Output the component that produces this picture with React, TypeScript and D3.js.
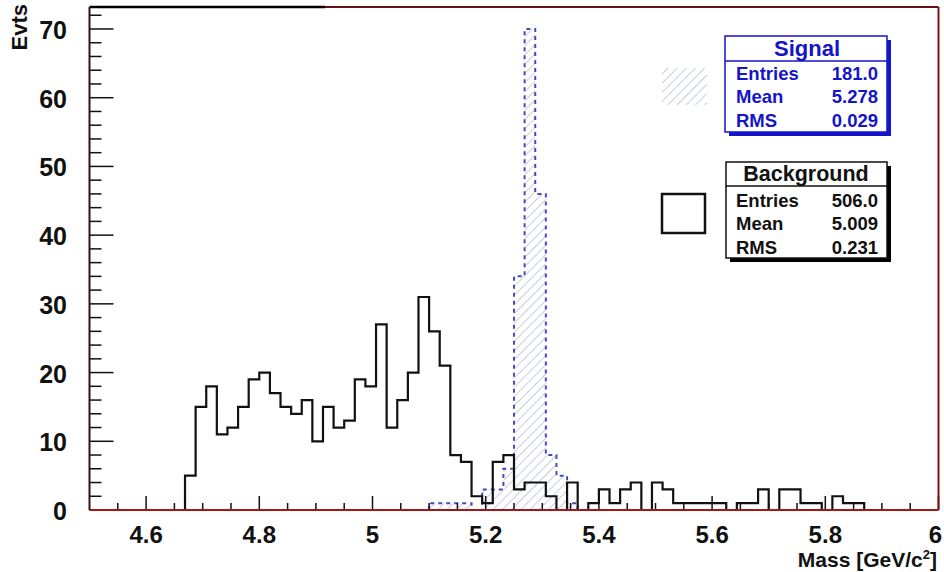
import React from 'react';
import * as d3 from 'd3';

// ---- data ----
const xMin = 4.5;
const xMax = 6.0;
const nBins = 80;
const yMaxVal = 73.2;

// background histogram: counts starting at bin index bgFirstBin
const bgFirstBin = 9;
const bgCounts = [
  5, 15, 18, 11, 12, 15, 19, 20, 17, 15, 14, 16, 10, 15, 12, 13, 19, 18, 27, 12, 16, 20, 31, 26, 21, 8, 7,
  2, 1, 7, 8, 3, 4, 4, 2, 0,
  4, 0, 1, 3, 1, 3, 4, 0, 4, 3, 1, 1, 1, 1, 1, 0, 1, 1, 3, 0, 3, 3, 1, 1, 0, 2, 1, 1,
];

// signal histogram: counts starting at bin index sigFirstBin
const sigFirstBin = 32;
const sigCounts = [1, 1, 1, 1, 0, 3, 3, 6, 34, 70, 46, 8, 5, 1];

const xTicks = [4.6, 4.8, 5.0, 5.2, 5.4, 5.6, 5.8, 6.0];
const xTickLabels = ['4.6', '4.8', '5', '5.2', '5.4', '5.6', '5.8', '6'];
const yTicks = [0, 10, 20, 30, 40, 50, 60, 70];

const sigStatLabels = ['Entries', 'Mean', 'RMS'];
const sigStatValues = ['181.0', '5.278', '0.029'];
const bgStatLabels = ['Entries', 'Mean', 'RMS'];
const bgStatValues = ['506.0', '5.009', '0.231'];

const FONT = "'Liberation Sans', Arial, Helvetica, sans-serif";

export default function App() {
  const x = d3.scaleLinear().domain([xMin, xMax]).range([89.5, 938.5]);
  const y = d3.scaleLinear().domain([0, yMaxVal]).range([510, 7]);
  const bw = (xMax - xMin) / nBins;
  const edge = (i: number) => xMin + i * bw;

  const stepPath = (first: number, counts: number[], close: boolean) => {
    const p = d3.path();
    p.moveTo(x(edge(first)), y(0));
    counts.forEach((c, i) => {
      p.lineTo(x(edge(first + i)), y(c));
      p.lineTo(x(edge(first + i + 1)), y(c));
    });
    p.lineTo(x(edge(first + counts.length)), y(0));
    if (close) p.closePath();
    return p.toString();
  };

  const xMinor = d3.range(4.55, 5.999, 0.05).filter(
    (v) => !xTicks.some((t) => Math.abs(t - v) < 1e-6)
  );
  const yMinor = d3.range(2, 73, 2).filter((v) => v % 10 !== 0);

  const sigBlue = '#1414c8';

  return (
    <svg
      width={944}
      height={572}
      style={{ position: 'absolute', left: 0, top: 0, background: '#fff' }}
      fontFamily={FONT}
    >
      <defs>
        <pattern
          id="hatch"
          patternUnits="userSpaceOnUse"
          width={6.5}
          height={6.5}
          patternTransform="rotate(45)"
        >
          <line x1={0} y1={0} x2={0} y2={6.5} stroke="#9ba6c8" strokeWidth={1.1} />
        </pattern>
      </defs>

      {/* signal hatched area */}
      <path d={stepPath(sigFirstBin, sigCounts, true)} fill="url(#hatch)" stroke="none" />
      <path
        d={stepPath(sigFirstBin, sigCounts, false)}
        fill="none"
        stroke="#4a4ac0"
        strokeWidth={2}
        strokeDasharray="4 4"
      />

      {/* background histogram */}
      <path
        d={stepPath(bgFirstBin, bgCounts, false)}
        fill="none"
        stroke="#111"
        strokeWidth={2.2}
      />

      {/* ticks */}
      {xTicks.map((t) => (
        <line key={'xt' + t} x1={x(t)} x2={x(t)} y1={y(0)} y2={y(0) - 14} stroke="#111" strokeWidth={1.5} />
      ))}
      {xMinor.map((t) => (
        <line key={'xm' + t} x1={x(t)} x2={x(t)} y1={y(0)} y2={y(0) - 7} stroke="#111" strokeWidth={1.5} />
      ))}
      {yTicks.map((t) => (
        <line key={'yt' + t} x1={x(xMin)} x2={x(xMin) + 24} y1={y(t)} y2={y(t)} stroke="#111" strokeWidth={1.5} />
      ))}
      {yMinor.map((t) => (
        <line key={'ym' + t} x1={x(xMin)} x2={x(xMin) + 12} y1={y(t)} y2={y(t)} stroke="#111" strokeWidth={1.5} />
      ))}

      {/* frame */}
      <line x1={x(xMax)} x2={x(xMax)} y1={y(yMaxVal)} y2={y(0)} stroke="#7a1414" strokeWidth={2} />
      <line x1={325} x2={x(xMax)} y1={y(yMaxVal)} y2={y(yMaxVal)} stroke="#6a1010" strokeWidth={2} />
      <line x1={x(xMin)} x2={325} y1={y(yMaxVal)} y2={y(yMaxVal)} stroke="#000" strokeWidth={2.5} />
      <line x1={x(xMin)} x2={x(xMax)} y1={y(0)} y2={y(0)} stroke="#a01818" strokeWidth={2} />
      <line x1={x(xMin)} x2={x(xMin)} y1={y(yMaxVal)} y2={y(0)} stroke="#3a1010" strokeWidth={2} />

      {/* y tick labels */}
      {yTicks.map((t) => (
        <text
          key={'yl' + t}
          x={67}
          y={y(t) + 1}
          textAnchor="end"
          dominantBaseline="central"
          fontSize={25}
          fontWeight="bold"
          fill="#111"
        >
          {t}
        </text>
      ))}
      {/* x tick labels */}
      {xTicks.map((t, i) => (
        <text
          key={'xl' + t}
          x={x(t) - (i === xTicks.length - 1 ? 3 : 0)}
          y={543}
          textAnchor="middle"
          fontSize={24}
          fontWeight="bold"
          fill="#111"
        >
          {xTickLabels[i]}
        </text>
      ))}

      {/* axis titles */}
      <text x={937} y={567} textAnchor="end" fontSize={21} fontWeight="bold" fill="#111">
        Mass [GeV/c<tspan dy={-8} fontSize={13}>2</tspan><tspan dy={8}>]</tspan>
      </text>
      <text
        transform="translate(27,4) rotate(-90)"
        textAnchor="end"
        fontSize={22}
        fontWeight="bold"
        fill="#111"
      >
        Evts
      </text>

      {/* signal legend */}
      <rect x={662} y={68} width={45} height={37} fill="url(#hatch)" />
      <rect x={729} y={40} width={162} height={96} fill={sigBlue} />
      <rect x={725} y={36} width={162} height={96} fill="#fff" stroke={sigBlue} strokeWidth={1.5} />
      <line x1={725} x2={887} y1={61} y2={61} stroke={sigBlue} strokeWidth={1.5} />
      <text x={807} y={48.5} textAnchor="middle" dominantBaseline="central" fontSize={22} fontWeight="bold" fill={sigBlue}>
        Signal
      </text>
      {sigStatLabels.map((l, i) => (
        <g key={'sl' + l}>
          <text x={736} y={73 + i * 23.5} dominantBaseline="central" fontSize={18.5} fontWeight="bold" fill={sigBlue}>
            {l}
          </text>
          <text x={878} y={73 + i * 23.5} textAnchor="end" dominantBaseline="central" fontSize={18.5} fontWeight="bold" fill={sigBlue}>
            {sigStatValues[i]}
          </text>
        </g>
      ))}

      {/* background legend */}
      <rect x={662} y={194} width={43} height={39} fill="none" stroke="#111" strokeWidth={2.5} />
      <rect x={730} y={166} width={161} height={96} fill="#000" />
      <rect x={726} y={162} width={161} height={96} fill="#fff" stroke="#111" strokeWidth={1.5} />
      <line x1={726} x2={887} y1={186} y2={186} stroke="#111" strokeWidth={1.5} />
      <text x={806} y={174} textAnchor="middle" dominantBaseline="central" fontSize={21.5} fontWeight="bold" fill="#111">
        Background
      </text>
      {bgStatLabels.map((l, i) => (
        <g key={'bl' + l}>
          <text x={736} y={200 + i * 23.5} dominantBaseline="central" fontSize={18.5} fontWeight="bold" fill="#111">
            {l}
          </text>
          <text x={878} y={200 + i * 23.5} textAnchor="end" dominantBaseline="central" fontSize={18.5} fontWeight="bold" fill="#111">
            {bgStatValues[i]}
          </text>
        </g>
      ))}
    </svg>
  );
}
